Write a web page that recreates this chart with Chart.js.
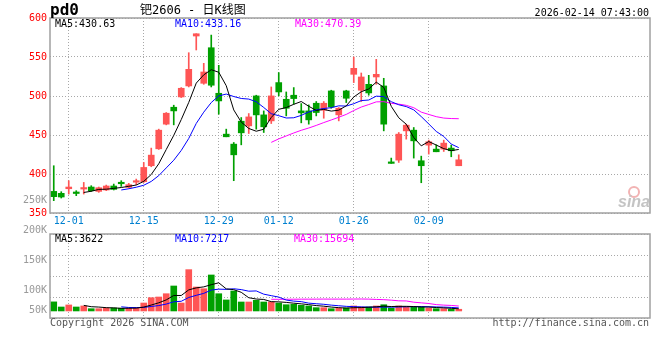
<!DOCTYPE html>
<html>
<head>
<meta charset="utf-8">
<script src="https://cdn.jsdelivr.net/npm/chart.js@4.4.1/dist/chart.umd.min.js"></script>
<style>
body { margin: 0; background: #fff; }
#cadre { position: relative; width: 660px; height: 360px; }
#graphiqueK { position: absolute; left: 0; top: 0; }
#graphiqueVol { position: absolute; left: 0; top: 190px; }
</style>
</head>
<body>
<div id="cadre">
<canvas id="graphiqueK" width="660" height="232"></canvas>
<canvas id="graphiqueVol" width="660" height="170"></canvas>
</div>
<script>
// donnees (pd0, 钯2606 日K)
var dates = ['11-27','11-28','12-01','12-02','12-03','12-04','12-05','12-08','12-09','12-10',
    '12-11','12-12','12-15','12-16','12-17','12-18','12-19','12-22','12-23','12-24',
    '12-25','12-26','12-29','12-30','12-31','01-05','01-06','01-07','01-08','01-09',
    '01-12','01-13','01-14','01-15','01-16','01-19','01-20','01-21','01-22','01-23',
    '01-26','01-27','01-28','01-29','01-30','02-02','02-03','02-04','02-05','02-06',
    '02-09','02-10','02-11','02-12','02-13'];
var ouvertures = [377.7,375.2,381.1,375.5,380.7,383.3,377.7,379.5,384.6,388.3,
    382.9,389.5,390.1,410.6,432.3,463.9,485.6,498.8,512.9,576.9,
    516.3,561.9,503.5,451.1,438.3,467.7,461.7,500.1,475.8,468.1,
    517.2,495.8,501.0,480.9,480.9,490.7,481.8,506.5,475.8,506.5,
    527.8,507.4,515.0,524.4,512.9,415.3,417.8,455.3,456.2,417.0,
    437.0,431.9,431.9,433.2,410.6];
var hauts = [410.6,377.3,391.4,378.6,389.2,385.0,383.3,385.8,387.1,391.4,
    388.0,393.5,414.8,433.2,457.5,478.8,488.2,510.8,555.5,579.8,
    541.9,578.1,539.3,457.5,440.4,472.4,477.5,501.0,480.9,511.6,
    530.0,505.2,510.8,490.3,488.6,492.9,492.9,507.4,485.2,507.4,
    550.0,529.5,526.5,547.0,522.7,420.4,453.2,463.9,459.6,422.9,
    443.4,437.4,443.4,437.0,424.6];
var bas = [365.8,369.2,374.3,372.2,374.3,377.7,376.5,378.6,379.5,384.1,
    382.0,386.3,389.2,409.3,431.5,463.0,463.0,498.0,511.6,559.0,
    515.0,511.6,476.7,447.7,391.4,437.4,451.9,457.5,453.2,464.7,
    500.1,474.5,489.5,465.6,463.9,474.5,471.5,484.3,468.1,491.6,
    517.2,492.9,501.0,515.0,455.3,413.6,414.8,444.7,420.4,388.8,
    425.5,428.5,428.9,422.1,410.6];
var fermetures = [370.9,370.5,383.3,375.0,382.0,378.6,382.4,384.6,380.3,387.5,
    386.3,390.5,408.4,424.2,456.2,477.9,480.9,509.9,534.2,579.8,
    530.8,513.8,493.7,447.7,424.6,452.8,473.2,475.8,460.5,500.1,
    505.2,484.3,496.7,478.4,469.4,478.8,490.7,486.0,484.3,497.1,
    535.5,524.4,503.9,527.8,463.9,413.6,451.1,462.6,442.5,410.6,
    441.3,428.5,439.6,429.8,418.2];
var volumes = [40000,17500,26500,17500,22000,10000,10000,13000,13000,12000,
    12000,13000,35000,58500,61500,76000,110000,35000,182000,105500,
    98000,158500,76000,48500,88000,39500,39500,47000,39500,39500,
    35000,27500,29500,25000,22000,14500,14500,10000,12000,13000,
    22000,17500,17500,22000,27500,13000,22000,17500,17500,17500,
    13000,10000,10000,7500,7500];

var datesAffichees = ['12-01','12-15','12-29','01-12','01-26','02-09'];
var prixMin = 350, prixMax = 600, prixPas = 50;
var volMin = -31000, volMax = 339000;
var etiquettesVol = ['250K','200K','150K','100K','50K'];
var textesMAK = ['MA5:430.63','MA10:433.16','MA30:470.39'];
var textesMAVol = ['MA5:3622','MA10:7217','MA30:15694'];
var nbCases = 80;

var ROUGE = '#ff5555';
var VERT = '#00a000';
var couleursMA = ['#000000','#0000ff','#ff00ff'];
var POLICE = "'DejaVu Sans Mono', monospace";

function GetMoyenneMobile(valeurs, n) {
    var res = [];
    var i = 0;
    while (i < valeurs.length) {
        if (i < n - 1) {
            res.push(null);
        } else {
            var s = 0;
            for (var j = i - n + 1; j <= i; j++) s += valeurs[j];
            res.push(s / n);
        }
        i++;
    }
    return res;
}

function GetCouleurs() {
    var couleurs = [];
    var i = 0;
    while (i < fermetures.length) {
        couleurs.push(fermetures[i] >= ouvertures[i] ? ROUGE : VERT);
        i++;
    }
    return couleurs;
}

var etiquettesX = dates.slice();
while (etiquettesX.length < nbCases) etiquettesX.push('');

var corps = [], meches = [];
for (var k = 0; k < dates.length; k++) {
    corps.push([ouvertures[k], fermetures[k]]);
    meches.push([bas[k], hauts[k]]);
}
var couleurs = GetCouleurs();

function LigneMA(label, donnees, couleur) {
    return {
        type: 'line', label: label, data: donnees,
        borderColor: couleur, borderWidth: 1, pointRadius: 0,
        tension: 0, fill: false, order: 0
    };
}

function FiltrerDates(s) {
    s.ticks = s.ticks.filter(function (t) {
        return datesAffichees.indexOf(etiquettesX[t.value]) >= 0;
    });
}

var cadreK = {
    id: 'cadreK',
    afterDraw: function (chart) {
        var ctx = chart.ctx, a = chart.chartArea;
        ctx.save();
        ctx.strokeStyle = '#a0a0a0';
        ctx.lineWidth = 1.5;
        ctx.strokeRect(a.left, a.top, a.right - a.left, a.bottom - a.top);

        ctx.textBaseline = 'alphabetic';
        ctx.fillStyle = '#000';
        ctx.font = 'bold 16px ' + POLICE;
        ctx.textAlign = 'left';
        ctx.fillText('pd0', 50, 15);
        ctx.font = "12px 'DejaVu Sans Mono', 'Noto Sans CJK SC'";
        ctx.fillText('钯2606 - 日K线图', 140, 14);
        ctx.font = '10px ' + POLICE;
        ctx.textAlign = 'right';
        ctx.fillText('2026-02-14 07:43:00', 649, 15.5);

        ctx.textAlign = 'left';
        var xs = [55, 175, 295];
        for (var i = 0; i < textesMAK.length; i++) {
            ctx.fillStyle = couleursMA[i];
            ctx.fillText(textesMAK[i], xs[i], a.top + 8.5);
        }

        // filigrane sina
        ctx.strokeStyle = '#f2b3b3';
        ctx.lineWidth = 2;
        ctx.beginPath();
        ctx.arc(634, 192, 5, 0, Math.PI * 2);
        ctx.stroke();
        ctx.fillStyle = '#c4c4c4';
        ctx.font = "italic bold 16px 'Liberation Sans'";
        ctx.fillText('sina', 618, 207);
        ctx.restore();
    }
};

var cadreVol = {
    id: 'cadreVol',
    afterDraw: function (chart) {
        var ctx = chart.ctx, a = chart.chartArea;
        ctx.save();
        ctx.strokeStyle = '#a0a0a0';
        ctx.lineWidth = 1.5;
        ctx.strokeRect(a.left, a.top, a.right - a.left, a.bottom - a.top);

        ctx.font = '10px ' + POLICE;
        ctx.textBaseline = 'alphabetic';
        ctx.textAlign = 'left';
        var xs = [55, 175, 294];
        for (var i = 0; i < textesMAVol.length; i++) {
            ctx.fillStyle = couleursMA[i];
            ctx.fillText(textesMAVol[i], xs[i], a.top + 8);
        }

        ctx.fillStyle = '#999999';
        ctx.textAlign = 'right';
        ctx.textBaseline = 'middle';
        for (var j = 0; j < etiquettesVol.length; j++) {
            var y = j < etiquettesVol.length - 1 ? a.top - 34 + j * 30.3 : a.bottom - 8;
            ctx.fillText(etiquettesVol[j], 47, y);
        }

        ctx.fillStyle = '#555555';
        ctx.textBaseline = 'alphabetic';
        ctx.textAlign = 'left';
        ctx.fillText('Copyright 2026 SINA.COM', 50, a.bottom + 8);
        ctx.textAlign = 'right';
        ctx.fillText('http://finance.sina.com.cn', 649, a.bottom + 8);
        ctx.restore();
    }
};

var grille = { color: '#a8a8a8', drawTicks: false };

new Chart(document.getElementById('graphiqueK'), {
    type: 'bar',
    data: {
        labels: etiquettesX,
        datasets: [
            LigneMA('MA5', GetMoyenneMobile(fermetures, 5), couleursMA[0]),
            LigneMA('MA10', GetMoyenneMobile(fermetures, 10), couleursMA[1]),
            LigneMA('MA30', GetMoyenneMobile(fermetures, 30), couleursMA[2]),
            {
                label: 'corps', data: corps, backgroundColor: couleurs,
                barThickness: 6, minBarLength: 1.5, grouped: false, order: 1
            },
            {
                label: 'meches', data: meches, backgroundColor: couleurs,
                barThickness: 1, grouped: false, order: 2
            }
        ]
    },
    options: {
        responsive: false,
        animation: false,
        layout: { padding: { top: 18, right: 10, left: 0, bottom: 0 } },
        plugins: { legend: { display: false }, tooltip: { enabled: false } },
        scales: {
            x: {
                type: 'category', offset: true,
                grid: { color: '#a8a8a8', drawTicks: false, offset: false },
                border: { display: false, dash: [1, 2] },
                ticks: { autoSkip: false, maxRotation: 0, color: '#0080d0', padding: 2, font: { family: POLICE, size: 10 } },
                afterBuildTicks: FiltrerDates,
                afterFit: function (s) { s.height = 19; }
            },
            y: {
                min: prixMin, max: prixMax,
                grid: grille,
                border: { display: false, dash: [1, 2] },
                ticks: { stepSize: prixPas, color: '#ff0000', padding: 3, font: { family: POLICE, size: 10 } },
                afterFit: function (s) { s.width = 50; }
            }
        }
    },
    plugins: [cadreK]
});

new Chart(document.getElementById('graphiqueVol'), {
    type: 'bar',
    data: {
        labels: etiquettesX,
        datasets: [
            LigneMA('MA5', GetMoyenneMobile(volumes, 5), couleursMA[0]),
            LigneMA('MA10', GetMoyenneMobile(volumes, 10), couleursMA[1]),
            LigneMA('MA30', GetMoyenneMobile(volumes, 30), couleursMA[2]),
            {
                label: 'volume', data: volumes, backgroundColor: couleurs,
                barThickness: 6, grouped: false, order: 1
            }
        ]
    },
    options: {
        responsive: false,
        animation: false,
        layout: { padding: { top: 44, right: 10, left: 0, bottom: 0 } },
        plugins: { legend: { display: false }, tooltip: { enabled: false } },
        scales: {
            x: {
                type: 'category', offset: true,
                grid: { color: '#a8a8a8', drawTicks: false, offset: false },
                border: { display: false, dash: [1, 2] },
                ticks: { display: false, autoSkip: false },
                afterBuildTicks: FiltrerDates,
                afterFit: function (s) { s.height = 42; }
            },
            y: {
                min: volMin, max: volMax,
                grid: grille,
                border: { display: false, dash: [1, 2] },
                ticks: { display: false },
                afterBuildTicks: function (s) {
                    var t = [];
                    for (var i = 0; i <= 4; i++) t.push({ value: s.min + i * (s.max - s.min) / 4 });
                    s.ticks = t;
                },
                afterFit: function (s) { s.width = 50; }
            }
        }
    },
    plugins: [cadreVol]
});
</script>
</body>
</html>
